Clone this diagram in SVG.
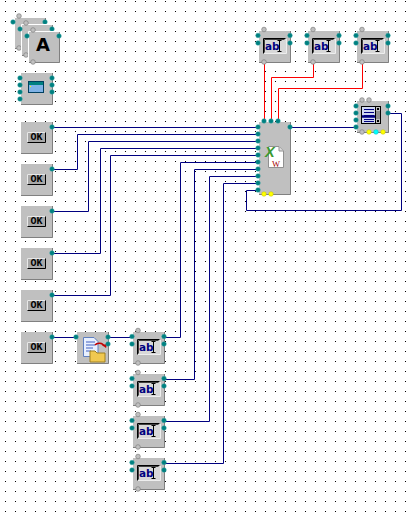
<svg xmlns="http://www.w3.org/2000/svg" width="415" height="512" viewBox="0 0 415 512">
<style>
.wn{fill:none;stroke:#000080;stroke-width:1}
.wr{fill:none;stroke:#ff0000;stroke-width:1}
.b{fill:#c0c0c0}
.s{fill:none;stroke:#808080;stroke-width:1}
.h{fill:none;stroke:#fff;stroke-width:1}
.ok{font:bold 10px "Liberation Mono",monospace;fill:#000}
.ab{font:bold 10.500px "DejaVu Sans",sans-serif;fill:#000080}
</style>
<defs>
<pattern id="grid" x="5" y="1" width="10" height="10" patternUnits="userSpaceOnUse"><rect width="1" height="1" fill="#000"/></pattern>
<circle id="t" r="2.300" fill="#008080" stroke="#30a0a0" stroke-width="0.500"/>
<circle id="g" r="2.300" fill="#c0c0c0" stroke="#808080" stroke-width="0.700"/>
<circle id="y" r="2.300" fill="#ffff00" stroke="#c0c000" stroke-width="0.500"/>
<circle id="c" r="2.300" fill="#00ffff" stroke="#00c0c0" stroke-width="0.500"/>
<g id="body"><rect class="b" width="32" height="32"/><path class="s" d="M31.500 0V31.500H0"/></g>
<g id="okb"><rect x="6" y="10" width="19" height="11" fill="#a8a8a8"/><path d="M6.500 20.500V10.500H24.500" stroke="#e8e8e8" fill="none"/><path d="M6.500 20.500H24.500V10.500" stroke="#000" fill="none"/><use href="#t" x="31" y="5"/></g>
<g id="abf"><rect x="4" y="7" width="23" height="16" fill="#d8d8d8"/><path d="M4.500 22.500V7.500H26.500" stroke="#000" fill="none"/><path d="M5.500 21.500V8.500H25.500" stroke="#404040" fill="none"/><path d="M5 22.500H27.500V8" stroke="#eee" fill="none"/><path d="M18.500 9.500H22.500M20.500 10V20M18.500 20.500H22.500" stroke="#000" fill="none"/></g>
<g id="abp"><use href="#t" x="-1" y="4.500"/><use href="#t" x="-1" y="12"/><use href="#t" x="31" y="4.500"/><use href="#t" x="31" y="12"/><use href="#g" x="5" y="-1.500"/><use href="#g" x="5" y="31"/></g>
</defs>
<rect width="415" height="512" fill="#fff"/>
<rect width="415" height="512" fill="url(#grid)"/>
<g id="connectors">
<path class="wr" d="M264.500 63V121"/>
<path class="wr" d="M313.500 63V77.500H271.500V121"/>
<path class="wr" d="M362.500 63V88.500H278.500V121"/>
<path class="wn" d="M52 127.500H258"/>
<path class="wn" d="M52 169.500H77.500V134.500H258"/>
<path class="wn" d="M52 211.500H88.500V141.500H258"/>
<path class="wn" d="M52 253.500H100.500V148.500H258"/>
<path class="wn" d="M52 295.500H110.500V155.500H258"/>
<path class="wn" d="M52 337.500H76"/>
<path class="wn" d="M108 337.500H132"/>
<path class="wn" d="M164 337.500H180.500V162.500H258"/>
<path class="wn" d="M164 379.500H194.500V169.500H258"/>
<path class="wn" d="M164 421.500H209.500V176.500H258"/>
<path class="wn" d="M164 463.500H223.500V183.500H258"/>
<path class="wn" d="M290 127.500H356"/>
<path class="wn" d="M388 113.500H401.500V210.500H246.500V190.500H258"/>
</g>
<g id="label-stack">
<g transform="translate(14,17)"><use href="#body"/><path class="h" d="M.5 32V.5H32"/><use href="#g" x="5" y="-1"/><use href="#t" x="-1" y="5"/><use href="#t" x="31" y="5"/><use href="#g" x="5" y="31"/></g>
<g transform="translate(21,24)"><use href="#body"/><path class="h" d="M.5 32V.5H32"/><use href="#g" x="5" y="-1"/><use href="#t" x="-1" y="5"/><use href="#t" x="31" y="5"/><use href="#g" x="5" y="31"/></g>
<g transform="translate(28,31)"><use href="#body"/><path class="h" d="M.5 32V.5H32"/><text x="15" y="20" text-anchor="middle" style="font:bold 18px 'DejaVu Sans',sans-serif;fill:#000">A</text><use href="#g" x="5" y="-1"/><use href="#t" x="-1" y="5"/><use href="#t" x="31" y="5"/><use href="#g" x="5" y="31"/></g>
</g>
<g id="window" transform="translate(21,73)"><use href="#body"/>
<rect x="7.500" y="8.500" width="15" height="11" fill="#7fb2e6" stroke="#004060"/><rect x="8" y="9" width="14" height="3" fill="#008080"/><rect x="9" y="13" width="1" height="1" fill="#ff0"/>
<use href="#t" x="-1" y="5"/><use href="#t" x="-1" y="12"/><use href="#t" x="-1" y="19"/><use href="#t" x="-1" y="26"/><use href="#t" x="31" y="5"/><use href="#t" x="31" y="12"/><use href="#t" x="31" y="19"/></g>
<g id="ok1" transform="translate(21,122)"><use href="#body"/><use href="#okb"/><text class="ok" x="15.500" y="18" text-anchor="middle">OK</text></g>
<g id="ok2" transform="translate(21,164)"><use href="#body"/><use href="#okb"/><text class="ok" x="15.500" y="18" text-anchor="middle">OK</text></g>
<g id="ok3" transform="translate(21,206)"><use href="#body"/><use href="#okb"/><text class="ok" x="15.500" y="18" text-anchor="middle">OK</text></g>
<g id="ok4" transform="translate(21,248)"><use href="#body"/><use href="#okb"/><text class="ok" x="15.500" y="18" text-anchor="middle">OK</text></g>
<g id="ok5" transform="translate(21,290)"><use href="#body"/><use href="#okb"/><text class="ok" x="15.500" y="18" text-anchor="middle">OK</text></g>
<g id="ok6" transform="translate(21,332)"><use href="#body"/><use href="#okb"/><text class="ok" x="15.500" y="18" text-anchor="middle">OK</text></g>
<g id="file" transform="translate(77,332)"><use href="#body"/>
<path d="M6.500 5.500H17L21 9.500V24.500H6.500Z" fill="#e8f0ff" stroke="#6080c0"/><path d="M9 10H18M9 13H18M9 16H16M9 19H14" stroke="#4060c0"/>
<path d="M13 22V19H18L20 21H28V30H13Z" fill="#f0c850" stroke="#a08020"/><path d="M18 13a5 4 0 0 1 9 1" fill="none" stroke="#c00000" stroke-width="1.500"/><path d="M25 13l4 3 1-4z" fill="#c00000"/>
<use href="#t" x="-1" y="5"/><use href="#t" x="31" y="5"/><use href="#t" x="31" y="12"/></g>
<g id="edit1" transform="translate(133,332)"><use href="#body"/><use href="#abf"/><text class="ab" x="6" y="19">ab</text><use href="#abp"/></g>
<g id="edit2" transform="translate(133,374)"><use href="#body"/><use href="#abf"/><text class="ab" x="6" y="19">ab</text><use href="#abp"/></g>
<g id="edit3" transform="translate(133,416)"><use href="#body"/><use href="#abf"/><text class="ab" x="6" y="19">ab</text><use href="#abp"/></g>
<g id="edit4" transform="translate(133,458)"><use href="#body"/><use href="#abf"/><text class="ab" x="6" y="19">ab</text><use href="#abp"/></g>
<g id="edit5" transform="translate(259,31)"><use href="#body"/><use href="#abf"/><text class="ab" x="6" y="19">ab</text><use href="#abp"/></g>
<g id="edit6" transform="translate(308,31)"><use href="#body"/><use href="#abf"/><text class="ab" x="6" y="19">ab</text><use href="#abp"/></g>
<g id="edit7" transform="translate(357,31)"><use href="#body"/><use href="#abf"/><text class="ab" x="6" y="19">ab</text><use href="#abp"/></g>
<g id="excel" transform="translate(259,122)">
<rect class="b" width="32" height="73"/><path class="s" d="M31.500 0V72.500H0"/>
<path d="M9.500 24.500H20L24.500 29V45.500H9.500Z" fill="#fff" stroke="#909090"/>
<path d="M20 25V29H24" fill="#ddd" stroke="#909090"/>
<text x="6" y="35" style="font:italic bold 14.500px 'Liberation Sans',sans-serif;fill:#3a9a30">X</text>
<text x="13" y="45" style="font:8.500px 'Liberation Serif',serif;fill:#a00000">W</text>
<use href="#t" x="5" y="-1"/><use href="#t" x="12" y="-1"/><use href="#t" x="19" y="-1"/>
<use href="#t" x="-1" y="5"/><use href="#t" x="-1" y="12"/><use href="#t" x="-1" y="19"/><use href="#t" x="-1" y="26"/><use href="#t" x="-1" y="33"/><use href="#t" x="-1" y="40"/><use href="#t" x="-1" y="47"/><use href="#t" x="-1" y="54"/><use href="#t" x="-1" y="61"/><use href="#t" x="-1" y="68"/>
<use href="#t" x="31" y="5"/><use href="#y" x="5" y="72"/><use href="#y" x="12" y="72"/></g>
<g id="listbox" transform="translate(357,101)"><use href="#body"/>
<rect x="4.500" y="5.500" width="19" height="17" fill="#d0d8f0" stroke="#000"/>
<path d="M7 8.500H17M7 11.500H17M7 14.500H17M7 18.500H17M7 20.500H17" stroke="#000080"/><path d="M5 15.500H18" stroke="#000080" stroke-width="2.500"/>
<rect x="18.500" y="5.500" width="5" height="17" fill="#c0c0c0" stroke="#000"/><rect x="19" y="10" width="4" height="8" fill="#909090"/><rect x="20" y="7" width="2" height="2" fill="#000"/><rect x="20" y="19" width="2" height="2" fill="#000"/>
<use href="#t" x="-1" y="5"/><use href="#t" x="-1" y="12"/><use href="#t" x="-1" y="19"/><use href="#t" x="-1" y="26"/><use href="#t" x="31" y="5"/><use href="#t" x="31" y="12"/>
<use href="#g" x="5" y="-1"/><use href="#g" x="12" y="-1"/><use href="#g" x="5" y="31"/><use href="#y" x="12" y="31"/><use href="#c" x="19" y="31"/><use href="#y" x="26" y="31"/></g>
</svg>
